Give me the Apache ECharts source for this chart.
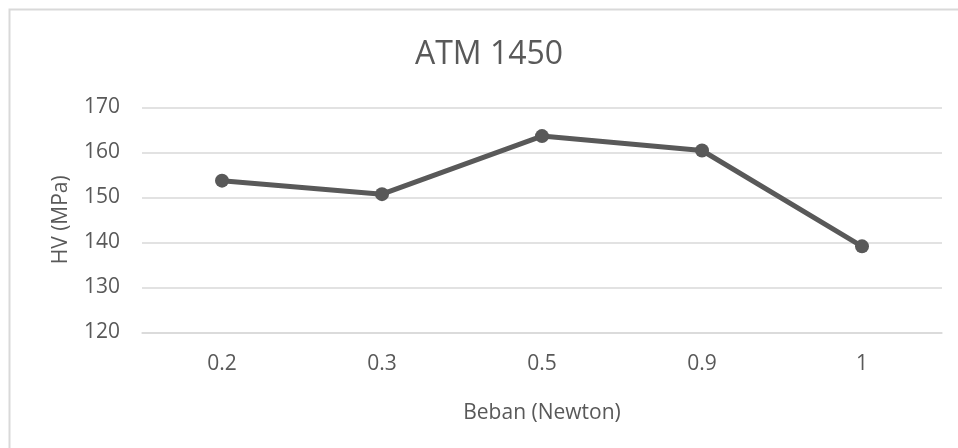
<!DOCTYPE html>
<html>
<head>
<meta charset="utf-8">
<script src="https://cdn.jsdelivr.net/npm/echarts@6/dist/echarts.min.js"></script>
<style>
html,body{margin:0;padding:0;background:#fff;}
#chart{width:958px;height:448px;}
</style>
</head>
<body>
<div id="chart"></div>
<script>
const titleText = 'ATM 1450';
const categories = ['0.2', '0.3', '0.5', '0.9', '1'];
const hvValues = [153.7, 150.7, 163.6, 160.4, 139.1];
const yTicks = [120, 130, 140, 150, 160, 170];
const xAxisName = 'Beban (Newton)';
const yAxisName = 'HV (MPa)';

const FONT = 'Open Sans';
const TXT = '#595959';
const GRID = '#d9d9d9';

const chart = echarts.init(document.getElementById('chart'), null, {renderer: 'canvas'});
chart.setOption({
  animation: false,
  backgroundColor: '#ffffff',
  graphic: [{
    type: 'rect',
    shape: {x: 9.5, y: 9.5, width: 1200, height: 1200},
    style: {fill: 'none', stroke: GRID, lineWidth: 2},
    silent: true,
    z: -10
  }],
  title: {
    text: titleText,
    left: 489,
    top: 39,
    textAlign: 'center',
    padding: 0,
    textStyle: {fontFamily: FONT, fontSize: 32, fontWeight: 'normal', color: TXT}
  },
  grid: {left: 142, right: 16, top: 107.3, bottom: 115.7, containLabel: false},
  xAxis: {
    type: 'category',
    data: categories,
    boundaryGap: true,
    name: xAxisName,
    nameLocation: 'middle',
    nameGap: 70,
    nameTextStyle: {fontFamily: FONT, fontSize: 21, color: TXT},
    axisLine: {show: true, lineStyle: {color: GRID, width: 1.5}},
    axisTick: {show: false},
    axisLabel: {fontFamily: FONT, fontSize: 21, color: TXT, margin: 21}
  },
  yAxis: {
    type: 'value',
    min: yTicks[0],
    max: yTicks[yTicks.length - 1],
    interval: 10,
    name: yAxisName,
    nameLocation: 'middle',
    nameGap: 70,
    nameTextStyle: {fontFamily: FONT, fontSize: 21, color: TXT},
    axisLine: {show: false},
    axisTick: {show: false},
    axisLabel: {fontFamily: FONT, fontSize: 21, color: TXT, margin: 22},
    splitLine: {show: true, lineStyle: {color: GRID, width: 1.5}}
  },
  series: [{
    type: 'line',
    data: hvValues,
    symbol: 'circle',
    symbolSize: 14,
    lineStyle: {color: '#595959', width: 5},
    itemStyle: {color: '#595959'},
    z: 5
  }]
});
</script>
</body>
</html>
